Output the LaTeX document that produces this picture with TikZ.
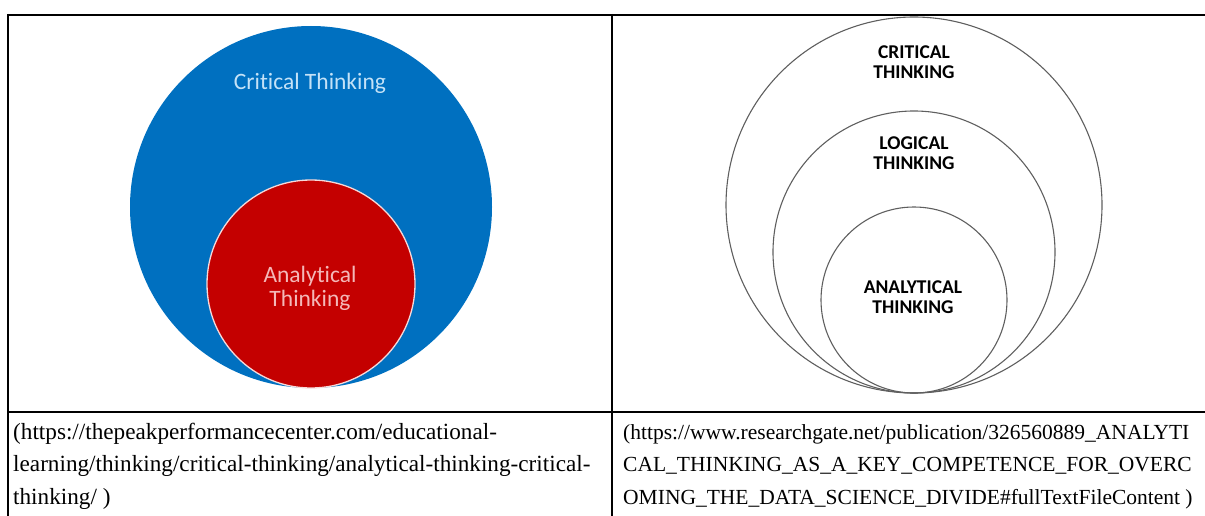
\documentclass[tikz,border=0pt]{standalone}
\usepackage{fontspec}
\setmainfont{Liberation Serif}
\newfontfamily\calib[Ligatures=NoCommon]{Carlito}
\definecolor{cblue}{RGB}{0,112,192}
\definecolor{cred}{RGB}{196,0,0}
\definecolor{ctxtblue}{RGB}{196,226,247}
\definecolor{ctxtred}{RGB}{244,184,184}
\definecolor{cgray}{RGB}{95,95,95}
\tikzset{
  rulethick/.style={line width=1.7pt, black},
  rulethin/.style={line width=1.1pt, black},
  vrule/.style={line width=1.8pt, black},
  ring/.style={circle, draw=cgray, line width=1.1pt, inner sep=0pt},
  biglabel/.style={font=\calib\fontsize{23.5}{24}\selectfont, align=center},
  caplabel/.style={font=\calib\bfseries\fontsize{19.5}{20}\selectfont, align=center, text=black},
  cite/.style={font=\fontsize{21.5}{32}\selectfont, anchor=base west, inner sep=0pt},
  citeleft/.style={cite, font=\fontsize{23.2}{32}\selectfont}
}
\begin{document}
\begin{tikzpicture}[x=1pt,y=-1pt]
\useasboundingbox (0,0) rectangle (1205,516);
% table rules
\coordinate (t0) at (7,15);
\coordinate (t1) at (105,15);
\coordinate (t2) at (418,15);
\coordinate (t3) at (638,15);
\coordinate (t4) at (1107,15);
\coordinate (t5) at (1205,15);
\draw[rulethick] (t0) -- (t1);
\draw[rulethin] (t1) -- (t2);
\draw[rulethick] (t2) -- (t3);
\draw[rulethin] (t3) -- (t4);
\draw[rulethick] (t4) -- (t5);
\coordinate (l0) at (8,14);
\coordinate (l1) at (8,516);
\draw[vrule] (l0) -- (l1);
\coordinate (m0) at (612,14);
\coordinate (m1) at (612,516);
\draw[vrule] (m0) -- (m1);
\coordinate (h0) at (8,412);
\coordinate (h1) at (1205,412);
\draw[vrule] (h0) -- (h1);
% left picture
\node[circle, fill=cblue, inner sep=0pt, minimum size=362pt] (blue) at (311,207) {};
\node[circle, fill=cred, draw=white!85!cred, line width=1.3pt, inner sep=0pt, minimum size=208pt] (red) at (311,284) {};
\node[biglabel, text=ctxtblue] (ctl) at (310,83) {Critical Thinking};
\node[biglabel, text=ctxtred] (atl) at (310,288) {Analytical\\Thinking};
% right picture
\node[ring, minimum size=376pt] (outer) at (914,205) {};
\node[ring, minimum size=282pt] (middle) at (914,252) {};
\node[ring, minimum size=186pt] (inner) at (914,300) {};
\node[caplabel] (crl) at (914,62) {CRITICAL\\THINKING};
\node[caplabel] (lgl) at (914,153) {LOGICAL\\THINKING};
\node[caplabel] (anl) at (913,297) {ANALYTICAL\\THINKING};
% captions
\node[citeleft] (c1) at (13,439) {(https://thepeakperformancecenter.com/educational-};
\node[citeleft] (c2) at (13,471) {learning/thinking/critical-thinking/analytical-thinking-critical-};
\node[citeleft] (c3) at (13,504) {thinking/ )};
\node[cite] (d1) at (623,439) {(https://www.researchgate.net/publication/326560889\_ANALYTI};
\node[cite] (d2) at (623,471) {CAL\_THINKING\_AS\_A\_KEY\_COMPETENCE\_FOR\_OVERC};
\node[cite] (d3) at (623,504) {OMING\_THE\_DATA\_SCIENCE\_DIVIDE\#fullTextFileContent )};
\end{tikzpicture}
\end{document}
